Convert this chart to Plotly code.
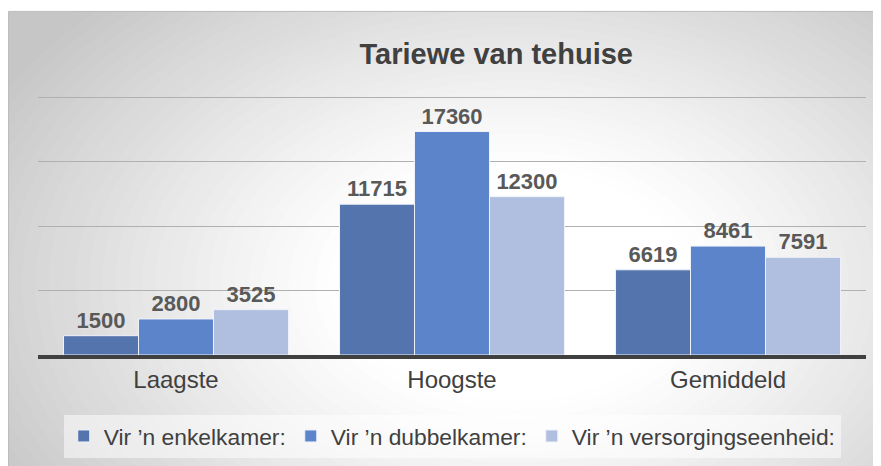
import plotly.graph_objects as go

W, H = 881, 466
OFF = 8  # page body margin shifts the figure by 8px on screen
Y_MAX = 20200  # a little headroom so the 20000 gridline is drawn
# plot area in screen pixels (20000 sits at y=98, 0 at y=355)
SX0, SX1, SY1 = 37.5, 866, 355
SY0 = SY1 - (355 - 98) * Y_MAX / 20000
L, R, T, B = SX0 - OFF, W - (SX1 - OFF), SY0 - OFF, H - (SY1 - OFF)

categories = ["Laagste", "Hoogste", "Gemiddeld"]
series_names = ["Vir ’n enkelkamer:", "Vir ’n dubbelkamer:", "Vir ’n versorgingseenheid:"]
enkelkamer = [1500, 11715, 6619]
dubbelkamer = [2800, 17360, 8461]
versorging = [3525, 12300, 7591]
series_colors = ["#5474ad", "#5b84cb", "#b0bfe0"]

PW, PH = SX1 - SX0, SY1 - SY0


def px_x(x):
    # screen x -> paper
    return (x - SX0) / PW


def px_y(y):
    # screen y -> paper
    return (SY1 - y) / PH


fig = go.Figure()
for name, values, color in zip(series_names, [enkelkamer, dubbelkamer, versorging], series_colors):
    fig.add_bar(
        x=categories,
        y=values,
        name=name,
        marker={"color": color, "line": {"color": "#eef2fa", "width": 1}},
        text=[str(v) for v in values],
        textposition="outside",
        cliponaxis=False,
        textfont={"size": 22, "color": "#595959", "weight": "bold"},
    )

# radial-ish background: gray frame + concentric ellipses getting lighter
shapes = [
    dict(type="rect", xref="paper", yref="paper", layer="below",
         x0=px_x(8), x1=px_x(W + 30), y0=px_y(12), y1=px_y(H + 30),
         fillcolor="#c6c6c6", line={"width": 0}),
]
cx, cy = 515, 285
rx, ry = 600, 400
n = 45
for i in range(n):
    s = 1 - i / n
    k = max(0.0, min(1.0, (s - 0.3) / 0.7)) ** 1.1
    g = int(round(255 - (255 - 198) * k))
    shapes.append(dict(
        type="circle", xref="paper", yref="paper", layer="below",
        x0=px_x(cx - rx * s), x1=px_x(cx + rx * s),
        y0=px_y(cy + ry * s), y1=px_y(cy - ry * s),
        fillcolor=f"rgb({g},{g},{g})", line={"width": 0},
    ))
# white outside strips and frame border
shapes += [
    dict(type="rect", xref="paper", yref="paper", layer="below",
         x0=px_x(-30), x1=px_x(W + 30), y0=px_y(11.5), y1=px_y(-30),
         fillcolor="#ffffff", line={"width": 0}),
    dict(type="rect", xref="paper", yref="paper", layer="below",
         x0=px_x(-30), x1=px_x(7.5), y0=px_y(H + 30), y1=px_y(-30),
         fillcolor="#ffffff", line={"width": 0}),
    dict(type="rect", xref="paper", yref="paper", layer="below",
         x0=px_x(8), x1=px_x(W + 30), y0=px_y(12), y1=px_y(H + 30),
         fillcolor="rgba(0,0,0,0)", line={"color": "#bdbdbd", "width": 1}),
]

fig.update_layout(
    width=W,
    height=H,
    margin={"l": L, "r": R, "t": T, "b": B, "pad": 0},
    paper_bgcolor="#ffffff",
    plot_bgcolor="rgba(0,0,0,0)",
    barmode="group",
    bargap=0.185,
    bargroupgap=0,
    font={"family": "Liberation Sans, Arial, sans-serif", "color": "#404040"},
    shapes=shapes,
    showlegend=True,
    title={
        "text": "<b>Tariewe van tehuise</b>",
        "x": px_x(496), "xref": "paper", "xanchor": "center",
        "y": 1 - (54 - OFF) / H, "yanchor": "middle",
        "font": {"size": 29, "color": "#404040"},
    },
    legend={
        "orientation": "h",
        "x": px_x(452), "xanchor": "center",
        "y": px_y(436), "yanchor": "middle",
        "bgcolor": "rgba(255,255,255,0.5)",
        "font": {"size": 22.8, "color": "#404040"},
        "itemwidth": 30,
        "traceorder": "normal",
    },
    xaxis={
        "showline": True,
        "linecolor": "#404040",
        "linewidth": 4,
        "ticks": "",
        "tickfont": {"size": 24, "color": "#404040"},
        "showgrid": False,
        "fixedrange": True,
    },
    yaxis={
        "range": [0, Y_MAX],
        "tickvals": [5000, 10000, 15000, 20000],
        "showticklabels": False,
        "showgrid": True,
        "gridcolor": "#b0b0b0",
        "gridwidth": 1,
        "zeroline": False,
        "fixedrange": True,
    },
)

fig.write_html("out.html")
